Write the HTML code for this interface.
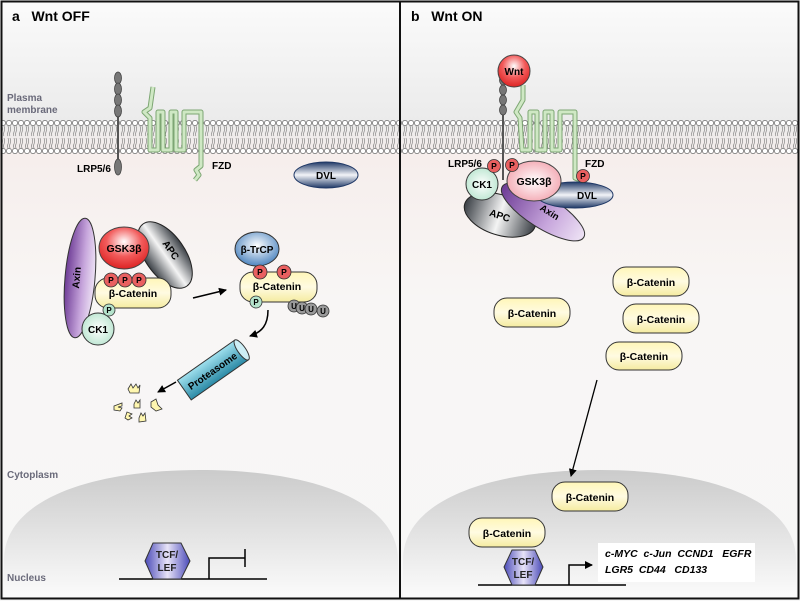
<!DOCTYPE html>
<html><head><meta charset="utf-8"><style>
html,body{margin:0;padding:0;background:#fff;}
svg{display:block;font-family:"Liberation Sans",Arial,sans-serif;}
</style></head><body>
<svg width="800" height="601" viewBox="0 0 800 601" xmlns="http://www.w3.org/2000/svg">
<defs>
<linearGradient id="bg" x1="0" y1="0" x2="0" y2="1">
<stop offset="0" stop-color="#fbfbfb"/><stop offset="0.2" stop-color="#ebebeb"/><stop offset="0.26" stop-color="#f6eeec"/><stop offset="0.5" stop-color="#f8f6f5"/><stop offset="1" stop-color="#f7f7f7"/></linearGradient>
<linearGradient id="nuc" x1="0" y1="0" x2="0" y2="1">
<stop offset="0" stop-color="#cbcbcb"/><stop offset="1" stop-color="#fbfbfb"/></linearGradient>
<pattern id="mem" x="0" y="119" width="6" height="36" patternUnits="userSpaceOnUse">
<circle cx="3" cy="4" r="2.6" fill="#fff" stroke="#666" stroke-width="0.7"/>
<circle cx="3" cy="32" r="2.6" fill="#fff" stroke="#666" stroke-width="0.7"/>
<path d="M2 7 q1 3 0 6 q-1 3 0 4 M4 7 q1 3 0 6 q-1 3 0 4 M2 19 q1 3 0 6 q-1 2 0 4 M4 19 q1 3 0 6 q-1 2 0 4" stroke="#777" stroke-width="0.6" fill="none"/>
</pattern>
<linearGradient id="yel" x1="0" y1="0" x2="0" y2="1"><stop offset="0" stop-color="#fff6b8"/><stop offset="0.5" stop-color="#fffbe2"/><stop offset="1" stop-color="#f5eba0"/></linearGradient>
<radialGradient id="red" cx="0.5" cy="0.35" r="0.7"><stop offset="0" stop-color="#fff"/><stop offset="0.5" stop-color="#f25b5b"/><stop offset="1" stop-color="#d91a1a"/></radialGradient>
<radialGradient id="pink" cx="0.5" cy="0.5" r="0.6"><stop offset="0" stop-color="#fff"/><stop offset="1" stop-color="#f2a0ab"/></radialGradient>
<linearGradient id="pur" x1="0" y1="0" x2="1" y2="0"><stop offset="0" stop-color="#6d3b95"/><stop offset="0.6" stop-color="#c7a6dc"/><stop offset="1" stop-color="#eee3f5"/></linearGradient>
<linearGradient id="gry" x1="0" y1="0" x2="1" y2="0"><stop offset="0" stop-color="#3a3f45"/><stop offset="0.5" stop-color="#f4f4f4"/><stop offset="1" stop-color="#3a3f45"/></linearGradient>
<linearGradient id="dvl" x1="0" y1="0" x2="0" y2="1"><stop offset="0" stop-color="#1f3866"/><stop offset="0.5" stop-color="#f2f4f8"/><stop offset="1" stop-color="#1f3866"/></linearGradient>
<radialGradient id="grn" cx="0.5" cy="0.5" r="0.6"><stop offset="0" stop-color="#fff"/><stop offset="1" stop-color="#b5e3cc"/></radialGradient>
<radialGradient id="blu" cx="0.5" cy="0.4" r="0.6"><stop offset="0" stop-color="#fff"/><stop offset="1" stop-color="#4f86c0"/></radialGradient>
<linearGradient id="hex" x1="0" y1="0" x2="1" y2="0"><stop offset="0" stop-color="#4a4ab8"/><stop offset="0.5" stop-color="#e8e4f8"/><stop offset="1" stop-color="#4a4ab8"/></linearGradient>
<linearGradient id="cyl" x1="0" y1="0" x2="0" y2="1"><stop offset="0" stop-color="#9fe0ee"/><stop offset="1" stop-color="#2b8aa6"/></linearGradient>
<marker id="ar" markerWidth="8" markerHeight="8" refX="7" refY="4" orient="auto" markerUnits="userSpaceOnUse"><path d="M0 0 L8 4 L0 8 z" fill="#000"/></marker>
</defs>
<rect x="0" y="0" width="800" height="601" fill="url(#bg)"/>
<rect x="2" y="119" width="796" height="36" fill="url(#mem)"/>
<path d="M4 560 C4 500 90 470 200 470 C310 470 398 500 398 560 L398 597 L4 597 Z" fill="url(#nuc)"/>
<path d="M403 560 C403 500 490 470 600 470 C710 470 796 500 796 560 L796 597 L403 597 Z" fill="url(#nuc)"/>
<rect x="1.5" y="1.5" width="797" height="597" fill="none" stroke="#111" stroke-width="2"/>
<line x1="400" y1="1" x2="400" y2="599" stroke="#111" stroke-width="2"/>
<text x="12" y="21" font-size="14" font-weight="bold">a&#160;&#160;&#160;Wnt OFF</text>
<text x="411" y="21" font-size="14" font-weight="bold">b&#160;&#160;&#160;Wnt ON</text>
<g font-size="10" font-weight="bold" fill="#6a6a7a">
<text x="7" y="101">Plasma</text><text x="7" y="113">membrane</text>
<text x="7" y="478">Cytoplasm</text><text x="7" y="581">Nucleus</text></g>

<line x1="118" y1="75" x2="118" y2="174" stroke="#555" stroke-width="2"/>
<g fill="#777" stroke="#444" stroke-width="0.8">
<ellipse cx="118" cy="78" rx="3.5" ry="6"/><ellipse cx="118" cy="89" rx="3.5" ry="6"/><ellipse cx="118" cy="100" rx="3.5" ry="6"/><ellipse cx="118" cy="111" rx="3.5" ry="6"/><ellipse cx="118" cy="167" rx="3.5" ry="8"/></g>
<path d="M153 87 L150 108 L144 112 L150 118 L150 150 L158 150 L158 112 L163 112 L163 150 L171 150 L171 112 L176 112 L176 150 L184 150 L184 112 L191 112 L201 112 L201 166 L196 170 L199 175 L195 180" fill="none" stroke="#7da673" stroke-width="5" stroke-linejoin="round"/>
<path d="M153 87 L150 108 L144 112 L150 118 L150 150 L158 150 L158 112 L163 112 L163 150 L171 150 L171 112 L176 112 L176 150 L184 150 L184 112 L191 112 L201 112 L201 166 L196 170 L199 175 L195 180" fill="none" stroke="#cfe8c4" stroke-width="3" stroke-linejoin="round"/>
<text x="77" y="172" font-size="10" font-weight="bold">LRP5/6</text>
<text x="212" y="169" font-size="10" font-weight="bold">FZD</text>
<ellipse cx="326" cy="175" rx="32" ry="13" fill="url(#dvl)" stroke="#1f3866"/>
<text x="326" y="179" font-size="10" font-weight="bold" text-anchor="middle">DVL</text>

<ellipse cx="80" cy="278" rx="15" ry="60" transform="rotate(5 80 278)" fill="url(#pur)" stroke="#333"/>
<text x="80" y="278" font-size="10" font-weight="bold" text-anchor="middle" transform="rotate(-85 80 278)">Axin</text>
<ellipse cx="165" cy="255" rx="20" ry="38" transform="rotate(-35 165 255)" fill="url(#gry)" stroke="#222"/>
<text x="168" y="252" font-size="10" font-weight="bold" text-anchor="middle" transform="rotate(55 168 252)">APC</text>
<ellipse cx="124" cy="248" rx="25" ry="21" fill="url(#red)" stroke="#444"/>
<text x="124" y="252" font-size="10.5" font-weight="bold" text-anchor="middle">GSK3β</text>
<rect x="95" y="278" width="76" height="30" rx="13" fill="url(#yel)" stroke="#333"/>
<text x="133" y="297" font-size="10.5" font-weight="bold" text-anchor="middle">β-Catenin</text>
<g fill="#e96060" stroke="#333" stroke-width="0.8"><circle cx="111" cy="280" r="7"/><circle cx="125" cy="280" r="7"/><circle cx="139" cy="280" r="7"/></g>
<g font-size="8.5" font-weight="bold" text-anchor="middle"><text x="111" y="283">P</text><text x="125" y="283">P</text><text x="139" y="283">P</text></g>
<circle cx="98" cy="329" r="16" fill="url(#grn)" stroke="#333"/>
<text x="98" y="333" font-size="10" font-weight="bold" text-anchor="middle">CK1</text>
<circle cx="109" cy="310" r="6" fill="#b5e3cc" stroke="#333" stroke-width="0.8"/><text x="109" y="313" font-size="8" font-weight="bold" text-anchor="middle">P</text>
<line x1="193" y1="298" x2="226" y2="290" stroke="#000" stroke-width="1.5" marker-end="url(#ar)"/>

<ellipse cx="257" cy="249" rx="22" ry="17" fill="url(#blu)" stroke="#333"/>
<text x="257" y="253" font-size="10" font-weight="bold" text-anchor="middle">β-TrCP</text>
<rect x="240" y="272" width="77" height="30" rx="13" fill="url(#yel)" stroke="#333"/>
<text x="277" y="290" font-size="10.5" font-weight="bold" text-anchor="middle">β-Catenin</text>
<g fill="#e96060" stroke="#333" stroke-width="0.8"><circle cx="260" cy="272" r="7"/><circle cx="284" cy="272" r="7"/></g>
<g font-size="8.5" font-weight="bold" text-anchor="middle"><text x="260" y="275">P</text><text x="284" y="275">P</text></g>
<circle cx="256" cy="302" r="6" fill="#b5e3cc" stroke="#333" stroke-width="0.8"/><text x="256" y="305" font-size="8" font-weight="bold" text-anchor="middle">P</text>
<g fill="#999" stroke="#333" stroke-width="0.8"><circle cx="294" cy="306" r="6"/><circle cx="302" cy="308" r="6"/><circle cx="311" cy="309" r="6"/><circle cx="323" cy="311" r="6"/></g>
<g font-size="8" font-weight="bold" text-anchor="middle"><text x="294" y="309">U</text><text x="302" y="311">U</text><text x="311" y="312">U</text><text x="323" y="314">U</text></g>
<path d="M268 310 C268 325 262 332 250 336" fill="none" stroke="#000" stroke-width="1.5" marker-end="url(#ar)"/>
<g transform="rotate(-35 213 370)">
<rect x="178" y="358" width="70" height="24" fill="url(#cyl)" stroke="#333"/>
<ellipse cx="248" cy="370" rx="4" ry="12" fill="#cdeef5" stroke="#333"/>
<text x="212" y="374" font-size="10" font-weight="bold" text-anchor="middle">Proteasome</text></g>
<line x1="176" y1="382" x2="158" y2="392" stroke="#000" stroke-width="1.5" marker-end="url(#ar)"/>
<g fill="#fff7b0" stroke="#333" stroke-width="0.8">
<path d="M128 389 l3 -5 l2 4 l3 -4 l2 4 l2 -3 l-1 8 l-9 0z"/>
<path d="M114 406 l8 -3 l0 3 l-4 1 l4 1 l-2 3 l-6 -1z"/>
<path d="M134 404 l2 -4 l2 3 l2 -3 l0 8 l-6 0z"/>
<path d="M151 402 l5 -3 l2 6 l4 4 l-6 2 l-5 -4z"/>
<path d="M125 418 l2 -6 l5 2 l-3 2 l3 2 l-4 2z"/>
<path d="M139 418 l2 -5 l2 3 l2 -3 l1 8 l-7 1z"/></g>

<line x1="119" y1="579" x2="267" y2="579" stroke="#000" stroke-width="1.5"/>
<polygon points="153,543 181,543 190,561 181,579 153,579 145,561" fill="url(#hex)" stroke="#333"/>
<text x="167" y="558" font-size="10" font-weight="bold" text-anchor="middle" fill="#222">TCF/</text>
<text x="167" y="571" font-size="10" font-weight="bold" text-anchor="middle" fill="#222">LEF</text>
<path d="M209 579 L209 558 L245 558 M245 549 L245 567" fill="none" stroke="#000" stroke-width="1.5"/>

<path d="M523 85 L523 100 L516 112 L520 118 L522 150 L530 150 L530 112 L537 112 L537 150 L545 150 L545 112 L552 112 L552 150 L560 150 L560 112 L567 112 L575 112 L575 178 L580 180" fill="none" stroke="#7da673" stroke-width="5" stroke-linejoin="round"/>
<path d="M523 85 L523 100 L516 112 L520 118 L522 150 L530 150 L530 112 L537 112 L537 150 L545 150 L545 112 L552 112 L552 150 L560 150 L560 112 L567 112 L575 112 L575 178 L580 180" fill="none" stroke="#cfe8c4" stroke-width="3" stroke-linejoin="round"/>
<line x1="503" y1="75" x2="503" y2="180" stroke="#555" stroke-width="2"/>
<g fill="#777" stroke="#444" stroke-width="0.8">
<ellipse cx="503" cy="80" rx="3.5" ry="5"/><ellipse cx="503" cy="90" rx="3.5" ry="5"/><ellipse cx="503" cy="100" rx="3.5" ry="5"/><ellipse cx="503" cy="110" rx="3.5" ry="5"/></g>
<circle cx="514" cy="71" r="16" fill="url(#red)" stroke="#444"/>
<text x="514" y="75" font-size="10" font-weight="bold" text-anchor="middle">Wnt</text>
<ellipse cx="500" cy="215" rx="37" ry="20" transform="rotate(18 500 215)" fill="url(#gry)" stroke="#222"/>
<text x="500" y="219" font-size="10" font-weight="bold" text-anchor="middle" transform="rotate(18 500 215)">APC</text>
<ellipse cx="543" cy="212" rx="48" ry="16" transform="rotate(32 543 212)" fill="url(#pur)" stroke="#333"/>
<text x="548" y="215" font-size="9.5" font-weight="bold" text-anchor="middle" transform="rotate(32 548 215)">Axin</text>
<circle cx="482" cy="184" r="16" fill="url(#grn)" stroke="#333"/>
<text x="482" y="188" font-size="10" font-weight="bold" text-anchor="middle">CK1</text>
<ellipse cx="575" cy="195" rx="38" ry="13" fill="url(#dvl)" stroke="#1f3866"/>
<text x="587" y="199" font-size="10" font-weight="bold" text-anchor="middle">DVL</text>
<ellipse cx="534" cy="181" rx="27" ry="20" fill="url(#pink)" stroke="#444"/>
<text x="534" y="185" font-size="10.5" font-weight="bold" text-anchor="middle">GSK3β</text>
<g fill="#e96060" stroke="#333" stroke-width="0.8"><circle cx="494" cy="166" r="6.5"/><circle cx="512" cy="165" r="6.5"/><circle cx="583" cy="176" r="6.5"/></g>
<g font-size="8.5" font-weight="bold" text-anchor="middle"><text x="494" y="169">P</text><text x="512" y="168">P</text><text x="583" y="179">P</text></g>
<text x="448" y="167" font-size="10" font-weight="bold">LRP5/6</text>
<text x="585" y="167" font-size="10" font-weight="bold">FZD</text>

<g font-size="10.5" font-weight="bold" text-anchor="middle">
<rect x="494" y="298" width="76" height="29" rx="13" fill="url(#yel)" stroke="#333"/><text x="532" y="317">β-Catenin</text>
<rect x="613" y="267" width="76" height="29" rx="13" fill="url(#yel)" stroke="#333"/><text x="651" y="286">β-Catenin</text>
<rect x="623" y="304" width="76" height="29" rx="13" fill="url(#yel)" stroke="#333"/><text x="661" y="323">β-Catenin</text>
<rect x="606" y="342" width="76" height="28" rx="13" fill="url(#yel)" stroke="#333"/><text x="644" y="360">β-Catenin</text>
</g>
<line x1="597" y1="380" x2="571" y2="476" stroke="#000" stroke-width="1.3" marker-end="url(#ar)"/>
<g font-size="10.5" font-weight="bold" text-anchor="middle">
<rect x="552" y="482" width="76" height="29" rx="13" fill="url(#yel)" stroke="#333"/><text x="590" y="501">β-Catenin</text>
<rect x="469" y="518" width="76" height="29" rx="13" fill="url(#yel)" stroke="#333"/><text x="507" y="537">β-Catenin</text>
</g>
<line x1="478" y1="585" x2="626" y2="585" stroke="#000" stroke-width="1.5"/>
<polygon points="512,550 535,550 543,567 535,585 512,585 504,567" fill="url(#hex)" stroke="#333"/>
<text x="523" y="565" font-size="10" font-weight="bold" text-anchor="middle" fill="#222">TCF/</text>
<text x="523" y="578" font-size="10" font-weight="bold" text-anchor="middle" fill="#222">LEF</text>
<path d="M569 585 L569 565 L592 565" fill="none" stroke="#000" stroke-width="1.5" marker-end="url(#ar)"/>
<rect x="598" y="543" width="157" height="39" fill="#fff"/>
<g font-size="10.5" font-weight="bold" font-style="italic"><text x="605" y="557">c-MYC&#160; c-Jun&#160; CCND1&#160;&#160; EGFR</text><text x="605" y="573">LGR5&#160; CD44&#160;&#160; CD133</text></g>
</svg>
</body></html>
